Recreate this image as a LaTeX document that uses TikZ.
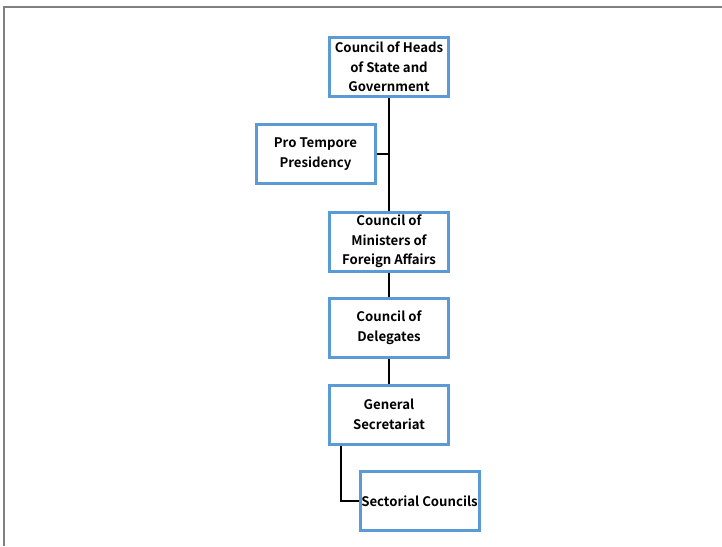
\documentclass[tikz,border=0pt]{standalone}
\usepackage{fontspec}
\setmainfont{Noto Sans CJK JP}[BoldFont={Noto Sans CJK JP Bold}]
\tikzset{
  unit/.style={draw=boxblue, line width=3pt, fill=white, minimum width=119pt,
    minimum height=59pt, align=center, font=\bfseries\fontsize{13.2}{19.5}\selectfont,
    inner sep=1pt},
  link/.style={line width=2.6pt, black}
}
\definecolor{boxblue}{RGB}{91,155,213}
\begin{document}
\begin{tikzpicture}[x=1pt, y=-1pt]
      \useasboundingbox (0,0) rectangle (722,546);
      \draw[gray, line width=2pt] (4,546) -- (4,7) -- (722,7);
      \draw
        (389,67) node[unit] (heads){Council of Heads\\of State and\\Government}
        (315.5,154) node[unit] (ptp){Pro Tempore\\Presidency}
        (389,241.5) node[unit] (ministers){Council of\\Ministers of\\Foreign Affairs}
        (389,327.5) node[unit] (delegates){Council of\\Delegates}
        (389,414.5) node[unit] (secretariat){General\\Secretariat}
        (419.5,501) node[unit] (sectorial){Sectorial Councils};
      \begin{scope}[link]
        \draw (heads) to (ministers);
        \draw (ptp.east) to (ptp.east -| heads.south);
        \draw (ministers) to (delegates);
        \draw (delegates) to (secretariat);
        \draw (secretariat.south -| 341,0) |- (sectorial.west);
      \end{scope}
    \end{tikzpicture}
\end{document}
